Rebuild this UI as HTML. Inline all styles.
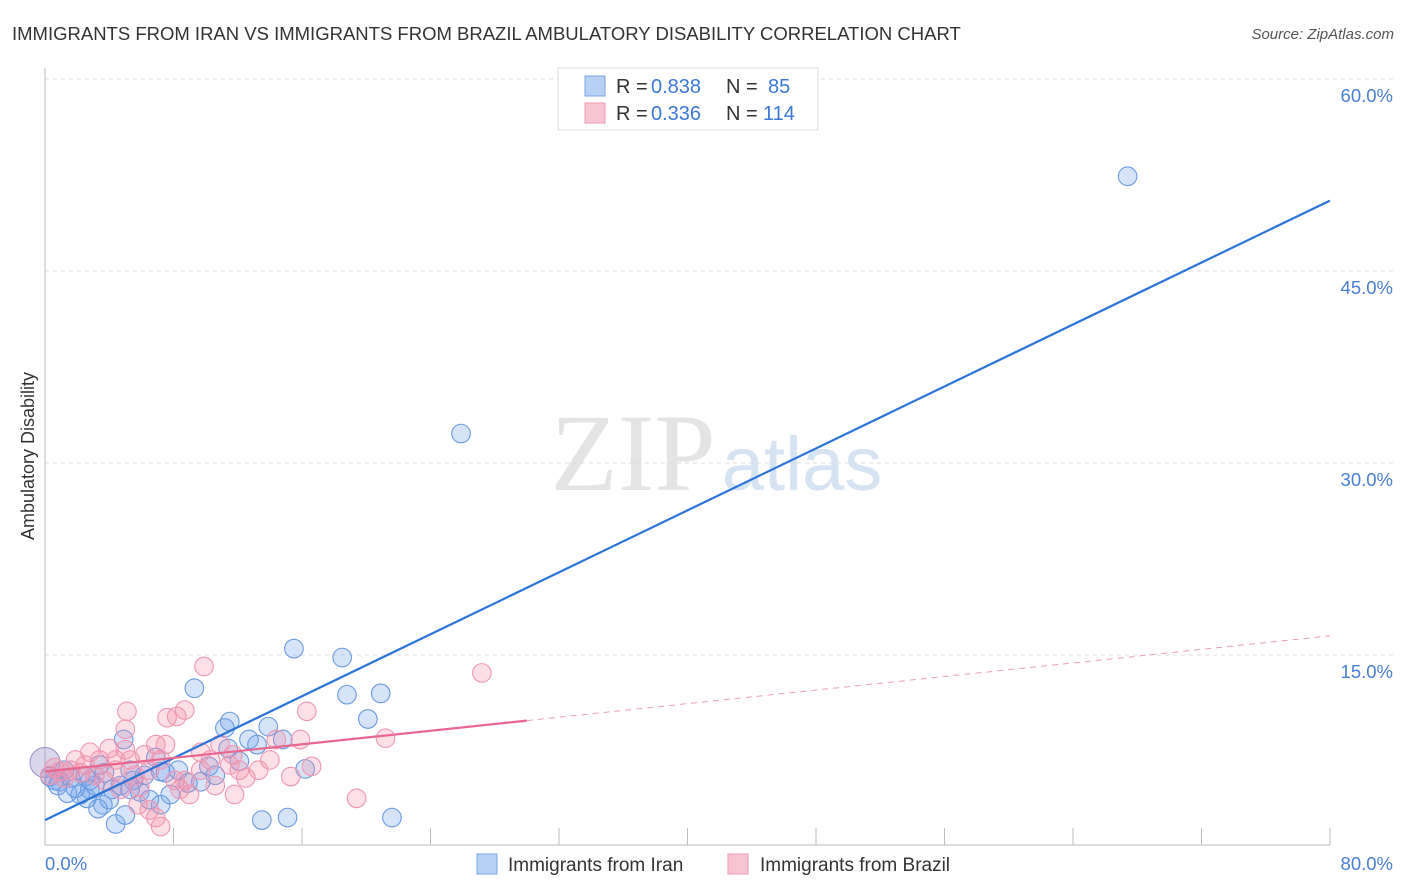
<!DOCTYPE html>
<html><head><meta charset="utf-8"><style>
body{margin:0;background:#fff;font-family:"Liberation Sans",sans-serif;}
svg{display:block}
</style></head><body>
<svg width="1406" height="892" id="c">
<text x="12" y="40" font-size="18.5" fill="#333">IMMIGRANTS FROM IRAN VS IMMIGRANTS FROM BRAZIL AMBULATORY DISABILITY CORRELATION CHART</text>
<text x="1394" y="39" font-size="15" fill="#555" font-style="italic" text-anchor="end">Source: ZipAtlas.com</text>
<text x="34" y="456" font-size="18" fill="#333" text-anchor="middle" transform="rotate(-90 34 456)">Ambulatory Disability</text>
<g><text x="633" y="490" font-size="110" fill="#e4e4e4" font-family="Liberation Serif" text-anchor="middle">ZIP</text><text x="802" y="490" font-size="76" fill="#d6e3f3" text-anchor="middle">atlas</text></g>
<g id="grid"></g><g id="pts"></g><g id="lines"></g>
<g>
<rect x="558" y="68" width="260" height="62" fill="#fff" stroke="#ddd"/>
<rect x="585" y="76" width="20" height="20" fill="#b8d0f3" stroke="#7aa5e6"/>
<rect x="585" y="103" width="20" height="20" fill="#f8c4d3" stroke="#ee9ab4"/>
<text x="616" y="93" font-size="20" fill="#333">R =</text><text x="651" y="93" font-size="20" fill="#3b78d8">0.838</text>
<text x="726" y="93" font-size="20" fill="#333">N =</text><text x="768" y="93" font-size="20" fill="#3b78d8">85</text>
<text x="616" y="120" font-size="20" fill="#333">R =</text><text x="651" y="120" font-size="20" fill="#3b78d8">0.336</text>
<text x="726" y="120" font-size="20" fill="#333">N =</text><text x="763" y="120" font-size="20" fill="#3b78d8">114</text>
</g>
<g>
<rect x="477" y="854" width="20" height="20" fill="#b8d0f3" stroke="#7aa5e6"/>
<text x="508" y="871" font-size="19" fill="#333">Immigrants from Iran</text>
<rect x="728" y="854" width="20" height="20" fill="#f8c4d3" stroke="#ee9ab4"/>
<text x="760" y="871" font-size="19" fill="#333">Immigrants from Brazil</text>
</g>
</svg>
<script>
const blueX=[67.4,25.9,15.5,18.5,9.3,18.8,20.9,20.1,11.5,11.2,13.9,12.7,14.8,13.2,11.4,12.1,16.2,10.2,8.3,7.2,7.5,4.9,6.9,5.5,9.7,8.9,13.5,15.1,21.6,4.4,5.0,3.6,3.3,7.2,2.6,1.4,2.2,3.1,4.2,5.9,0.9,0.6,0.3,1.6,2.5,3.7,4.7,5.3,7.8,6.5,4.0,1.9,2.8,1.2,3.4,6.2,10.6,5.3,2.8,0.8];
const blueY=[52.4,32.3,15.5,14.8,12.4,11.9,12.0,10.0,9.8,9.3,9.4,8.4,8.4,8.0,7.7,6.7,6.1,6.3,6.0,5.9,5.8,8.4,7.0,5.2,5.1,5.0,2.1,2.3,2.3,1.8,2.5,3.3,3.0,3.3,3.8,4.2,4.1,4.8,4.5,4.3,5.1,5.2,5.5,5.4,5.5,5.8,4.8,6.0,4.1,3.7,3.7,4.6,5.2,6.0,6.4,5.6,5.6,4.5,4.5,4.8];
const pinkX=[9.9,27.2,5.1,16.3,7.6,8.2,8.7,6.9,5.0,21.2,15.9,14.4,11.7,14.0,16.6,15.3,12.1,12.5,10.3,10.6,9.0,8.4,6.9,7.2,19.4,11.8,5.9,6.5,5.0,4.0,2.8,3.4,5.3,2.5,1.6,0.9,0.6,0.3,1.2,2.2,3.1,3.7,4.4,4.7,5.6,6.2,7.2,8.1,9.7,5.8,6.5,10.9,13.3,11.5,1.9,4.4,7.5,8.7,9.7];
const pinkY=[14.1,13.6,10.6,10.6,10.1,10.2,10.7,8.0,9.2,8.5,8.4,8.4,7.2,6.8,6.3,5.5,6.0,5.4,6.8,4.8,4.1,4.5,2.3,1.6,3.8,4.1,4.7,6.0,7.6,7.7,7.4,6.8,6.8,6.4,6.0,5.9,6.2,5.6,5.4,5.8,5.6,5.2,6.0,4.5,5.6,7.2,6.8,5.2,6.0,3.3,2.9,8.0,6.0,6.4,6.8,6.8,8.0,5.2,7.4];
const yTicks=[15,30,45,60];
const yTickLabels=["15.0%","30.0%","45.0%","60.0%"];
const blueFit=[2.1,50.5];
const pinkFit=[5.9,16.5];
const pinkSolidEnd=30;
const NS="http://www.w3.org/2000/svg";
const sx=v=>45+v/80*1285, sy=v=>847-v*12.8;
function mk(t,a,p){const e=document.createElementNS(NS,t);for(const k in a)e.setAttribute(k,a[k]);p.appendChild(e);return e;}
const grid=document.getElementById('grid');
yTicks.forEach((t,i)=>{
  const l=mk('line',{x1:45,x2:1395,y1:sy(t),y2:sy(t),stroke:'#ddd','stroke-dasharray':'4,4'},grid);
  
  
  const tx=mk('text',{x:1393,y:sy(t)+23,'font-size':18.5,fill:'#4a7fd4','text-anchor':'end'},grid);
  tx.textContent=yTickLabels[i];
  
  
});
mk('line',{x1:45,x2:45,y1:68,y2:845,stroke:'#bbb'},grid);
mk('line',{x1:45,x2:1330,y1:845,y2:845,stroke:'#bbb'},grid);
for(let i=0;i<=10;i++){const x=sx(i*8);const t=mk('line',{x1:x,x2:x,y1:828,y2:845,stroke:'#bbb'},grid);
  
  }
const xl=mk('text',{x:45,y:870,'font-size':18.5,fill:'#4a7fd4'},grid);xl.textContent='0.0%';


const xr=mk('text',{x:1393,y:870,'font-size':18.5,fill:'#4a7fd4','text-anchor':'end'},grid);xr.textContent='80.0%';


const pts=document.getElementById('pts');
const big1=mk('circle',{cx:sx(0),cy:sy(6.6),r:15,fill:'rgba(150,140,200,0.35)',stroke:'#9a8cc8'},pts);


blueX.forEach((x,i)=>{const c=mk('circle',{cx:sx(x),cy:sy(blueY[i]),r:9.3,fill:'rgba(120,165,235,0.3)',stroke:'#6a9be0','stroke-width':1.1},pts);
  
  });
pinkX.forEach((x,i)=>{const c=mk('circle',{cx:sx(x),cy:sy(pinkY[i]),r:9.3,fill:'rgba(245,140,170,0.28)',stroke:'#ee98b4','stroke-width':1.1},pts);
  
  });
const lines=document.getElementById('lines');
const bl=mk('line',{x1:sx(0),y1:sy(blueFit[0]),x2:sx(80),y2:sy(blueFit[1]),stroke:'#2c74d6','stroke-width':2.2},lines);


const pAt=v=>pinkFit[0]+(pinkFit[1]-pinkFit[0])*v/80;
const pl=mk('line',{x1:sx(0),y1:sy(pAt(0)),x2:sx(pinkSolidEnd),y2:sy(pAt(pinkSolidEnd)),stroke:'#e8668f','stroke-width':2.2},lines);


const pd=mk('line',{x1:sx(pinkSolidEnd),y1:sy(pAt(pinkSolidEnd)),x2:sx(80),y2:sy(pAt(80)),stroke:'#e8a0b8','stroke-width':1,'stroke-dasharray':'6,5'},lines);


</script>
</body></html>
